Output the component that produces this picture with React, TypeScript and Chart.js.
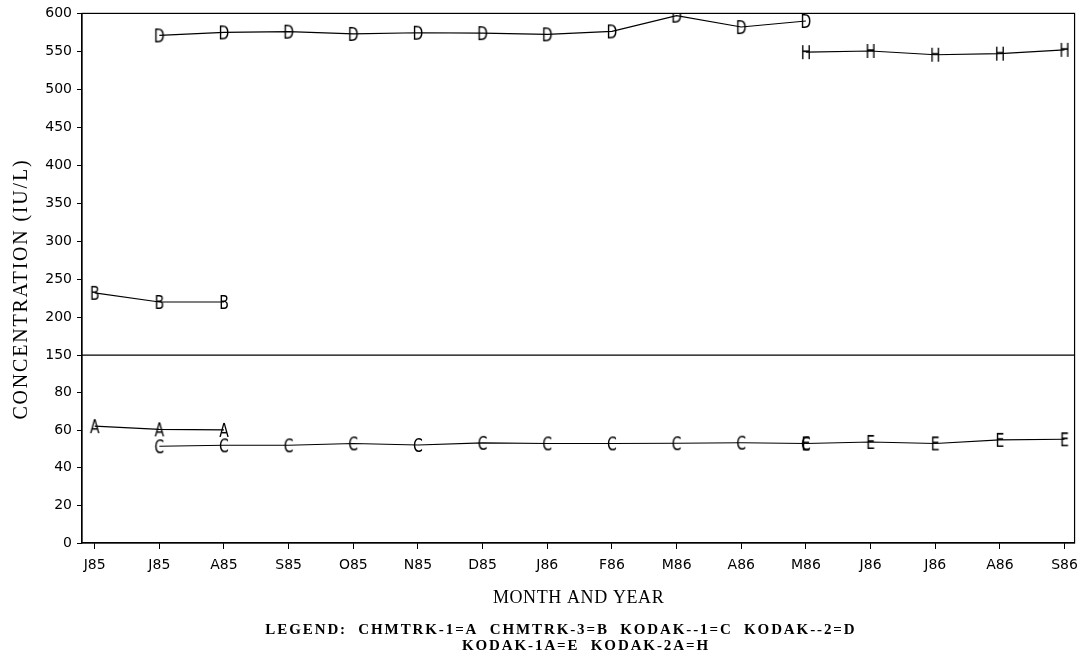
import React, { useEffect, useRef } from 'react';
import { Chart, registerables } from 'chart.js';

Chart.register(...registerables);

// ---- data ----
const monthLabels = ['J85', 'J85', 'A85', 'S85', 'O85', 'N85', 'D85', 'J86', 'F86', 'M86', 'A86', 'M86', 'J86', 'J86', 'A86', 'S86'];
const upperTicks = [150, 200, 250, 300, 350, 400, 450, 500, 550, 600];
const lowerTicks = [0, 20, 40, 60, 80];

const chmtrk1A = [62.2, 60.5, 60.2, null, null, null, null, null, null, null, null, null, null, null, null, null];
const chmtrk3B = [232, 220, 220, null, null, null, null, null, null, null, null, null, null, null, null, null];
const kodak1C = [null, 51.5, 52, 52, 53, 52.2, 53.3, 53, 53, 53.1, 53.4, 53, null, null, null, null];
const kodak2D = [null, 571, 575, 576, 573, 574.6, 574, 572.4, 576.3, 597, 582, 590, null, null, null, null];
const kodak1aE = [null, null, null, null, null, null, null, null, null, null, null, 53, 53.8, 53, 54.9, 55.2];
const kodak2aH = [null, null, null, null, null, null, null, null, null, null, null, 549, 550.5, 545.6, 547, 552];

const yTitle = 'CONCENTRATION (IU/L)';
const xTitle = 'MONTH AND YEAR';
const legendLines = [
  'LEGEND:  CHMTRK-1=A  CHMTRK-3=B  KODAK--1=C  KODAK--2=D',
  'KODAK-1A=E  KODAK-2A=H',
];

const INK = '#000';

function toPoints(values: (number | null)[]) {
  const pts: { x: number; y: number }[] = [];
  values.forEach((v, i) => {
    if (v !== null) pts.push({ x: i, y: v });
  });
  return pts;
}

function letterMarker(ch: string) {
  const c = document.createElement('canvas');
  c.width = 18;
  c.height = 20;
  const g = c.getContext('2d')!;
  g.fillStyle = INK;
  g.font = '19px "DejaVu Sans"';
  g.textAlign = 'center';
  g.textBaseline = 'alphabetic';
  g.translate(9, 10 + 7);
  g.scale(0.74, 1);
  g.fillText(ch, 0, 0);
  return c;
}

function drawSpaced(ctx: any, text: string, x: number, y: number, font: string, spacing: number, rotate = 0) {
  ctx.save();
  ctx.translate(x, y);
  if (rotate) ctx.rotate(rotate);
  ctx.font = font;
  ctx.fillStyle = INK;
  ctx.textBaseline = 'middle';
  ctx.textAlign = 'left';
  try {
    ctx.letterSpacing = spacing + 'px';
  } catch (e) {}
  const w = ctx.measureText(text).width - spacing;
  ctx.fillText(text, -w / 2, 0);
  ctx.restore();
}

const decorPlugin = {
  id: 'decor',
  beforeDatasetsDraw(chart: any) {
    const { ctx, chartArea: a } = chart;
    ctx.save();
    ctx.strokeStyle = INK;
    ctx.lineWidth = 1.2;
    ctx.strokeRect(a.left, a.top, a.right - a.left, a.bottom - a.top);
    const yb = chart.scales.yHigh.getPixelForValue(150);
    ctx.beginPath();
    ctx.moveTo(a.left, yb);
    ctx.lineTo(a.right, yb);
    ctx.stroke();
    ctx.restore();
  },
  afterDraw(chart: any) {
    const { ctx, chartArea: a } = chart;
    drawSpaced(ctx, yTitle, 22, 290, '20px "Liberation Serif"', 1.8, -Math.PI / 2);
    drawSpaced(ctx, xTitle, (a.left + a.right) / 2, 598, '18px "Liberation Serif"', 0.6);
    drawSpaced(ctx, legendLines[0], 560, 630, 'bold 15px "Liberation Serif"', 1.9);
    drawSpaced(ctx, legendLines[1], 585, 646, 'bold 15px "Liberation Serif"', 1.9);
  },
};

const tickFont = { family: '"DejaVu Sans"', size: 14 };

export default function App() {
  const ref = useRef<HTMLCanvasElement>(null);
  useEffect(() => {
    document.body.style.margin = '0';
    const mk = (label: string, values: (number | null)[], letter: string, axis: string) => ({
      label,
      data: toPoints(values),
      yAxisID: axis,
      borderColor: INK,
      backgroundColor: INK,
      borderWidth: 1.1,
      pointStyle: letterMarker(letter),
      pointRadius: 8,
      tension: 0,
      fill: false,
    });
    const chart = new Chart(ref.current!, {
      type: 'line',
      data: {
        datasets: [
          mk('CHMTRK-1', chmtrk1A, 'A', 'yLow'),
          mk('CHMTRK-3', chmtrk3B, 'B', 'yHigh'),
          mk('KODAK--1', kodak1C, 'C', 'yLow'),
          mk('KODAK--2', kodak2D, 'D', 'yHigh'),
          mk('KODAK-1A', kodak1aE, 'E', 'yLow'),
          mk('KODAK-2A', kodak2aH, 'H', 'yHigh'),
        ] as any,
      },
      options: {
        animation: false,
        responsive: true,
        maintainAspectRatio: false,
        layout: { padding: { left: 0, top: 13, right: 10, bottom: 0 } },
        plugins: { legend: { display: false }, tooltip: { enabled: false }, title: { display: false } },
        scales: {
          x: {
            type: 'linear',
            min: -0.196,
            max: 15.155,
            afterBuildTicks: (s: any) => {
              s.ticks = monthLabels.map((_, i) => ({ value: i }));
            },
            ticks: {
              callback: (v: any) => monthLabels[v] ?? '',
              font: tickFont,
              color: INK,
              padding: 8,
              maxRotation: 0,
              autoSkip: false,
            },
            grid: { drawOnChartArea: false, drawTicks: true, tickLength: 6, color: INK },
            border: { display: true, color: INK, width: 1.2 },
            afterFit: (s: any) => {
              s.height = 128;
            },
          },
          yLow: {
            type: 'linear',
            position: 'left',
            stack: 'y',
            stackWeight: 188,
            min: 0,
            max: 100,
            afterBuildTicks: (s: any) => {
              s.ticks = lowerTicks.map((v) => ({ value: v }));
            },
            ticks: { font: tickFont, color: INK, padding: 5 },
            grid: { drawOnChartArea: false, tickLength: 5, color: INK },
            border: { display: true, color: INK, width: 1.2 },
            afterFit: (s: any) => {
              s.width = 82;
            },
          },
          yHigh: {
            type: 'linear',
            position: 'left',
            stack: 'y',
            stackWeight: 342,
            min: 150,
            max: 600,
            afterBuildTicks: (s: any) => {
              s.ticks = upperTicks.map((v) => ({ value: v }));
            },
            ticks: { font: tickFont, color: INK, padding: 5 },
            grid: { drawOnChartArea: false, tickLength: 5, color: INK },
            border: { display: true, color: INK, width: 1.2 },
            afterFit: (s: any) => {
              s.width = 82;
            },
          },
        } as any,
      },
      plugins: [decorPlugin],
    });
    return () => chart.destroy();
  }, []);
  return (
    <div style={{ position: 'fixed', left: 0, top: 0, width: 1086, height: 671, background: '#fff' }}>
      <canvas ref={ref} />
    </div>
  );
}
